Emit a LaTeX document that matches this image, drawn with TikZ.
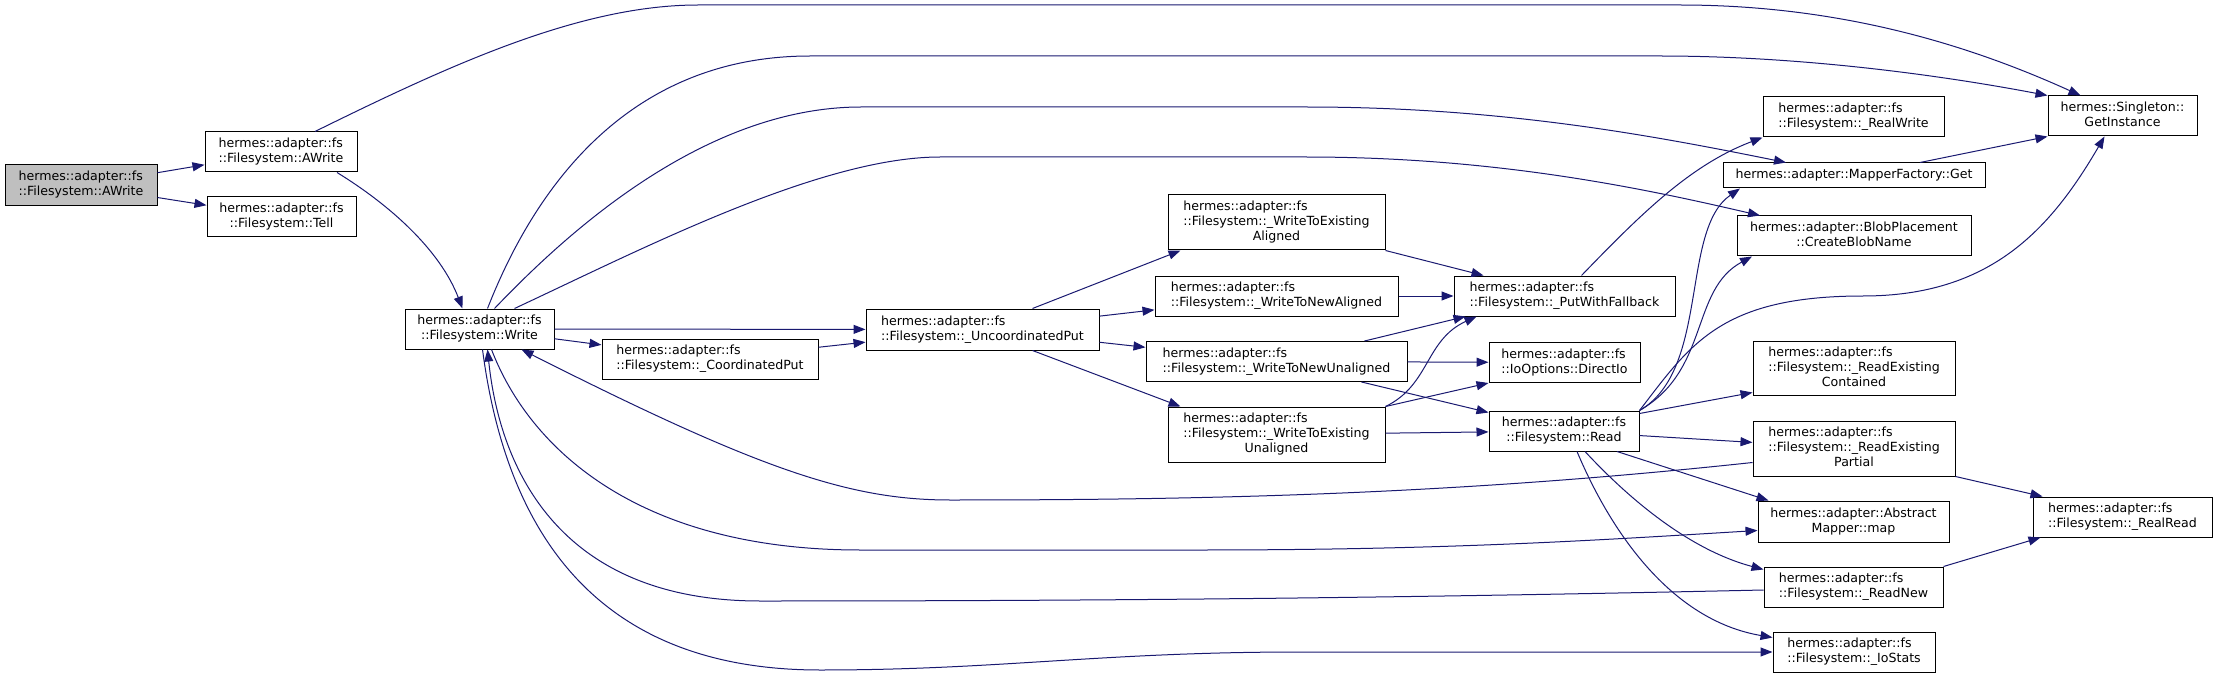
\documentclass[tikz,border=0pt]{standalone}
\usepackage{fontspec}
\setmainfont{DejaVu Sans}
\usetikzlibrary{arrows.meta}

\definecolor{edgeblue}{HTML}{191970}
\definecolor{rootgray}{HTML}{BFBFBF}

\newcommand{\twoline}[2]{\begin{tabular}{@{}l@{}}#1\\\multicolumn{1}{@{}c@{}}{#2}\end{tabular}}
\newcommand{\threeline}[3]{\begin{tabular}{@{}l@{}}#1\\#2\\\multicolumn{1}{@{}c@{}}{#3}\end{tabular}}

\begin{document}
\begin{tikzpicture}[x=1pt, y=-1pt,
  fn/.style={draw=black, line width=1pt, fill=white, inner sep=0pt, font=\fontsize{12.6}{15}\selectfont},
  edge/.style={draw=edgeblue, line width=1pt, -{Triangle[length=12pt,width=9pt]}}]

\useasboundingbox (0,0) rectangle (2217,679);

\node[fn, fill=rootgray, minimum width=152pt, minimum height=41pt] (root) at (81,185.5) {\twoline{hermes::adapter::fs}{::Filesystem::AWrite}};
\node[fn, minimum width=152pt, minimum height=40pt] (awrite) at (281,152) {\twoline{hermes::adapter::fs}{::Filesystem::AWrite}};
\node[fn, minimum width=149pt, minimum height=40pt] (tell) at (281.5,217) {\twoline{hermes::adapter::fs}{::Filesystem::Tell}};
\node[fn, minimum width=149pt, minimum height=40pt] (write) at (479.5,329) {\twoline{hermes::adapter::fs}{::Filesystem::Write}};
\node[fn, minimum width=216pt, minimum height=40pt] (coordput) at (710,359) {\twoline{hermes::adapter::fs}{::Filesystem::\_CoordinatedPut}};
\node[fn, minimum width=233pt, minimum height=41pt] (uncoordput) at (982.5,329.5) {\twoline{hermes::adapter::fs}{::Filesystem::\_UncoordinatedPut}};

\node[fn, minimum width=217pt, minimum height=55pt] (wtea) at (1276.5,222.5) {\threeline{hermes::adapter::fs}{::Filesystem::\_WriteToExisting}{Aligned}};
\node[fn, minimum width=243pt, minimum height=40pt] (wtna) at (1276.5,296) {\twoline{hermes::adapter::fs}{::Filesystem::\_WriteToNewAligned}};
\node[fn, minimum width=261pt, minimum height=40pt] (wtnu) at (1276.5,361.5) {\twoline{hermes::adapter::fs}{::Filesystem::\_WriteToNewUnaligned}};
\node[fn, minimum width=217pt, minimum height=55pt] (wteu) at (1276.5,434.5) {\threeline{hermes::adapter::fs}{::Filesystem::\_WriteToExisting}{Unaligned}};

\node[fn, minimum width=221pt, minimum height=40pt] (putfb) at (1564.5,296) {\twoline{hermes::adapter::fs}{::Filesystem::\_PutWithFallback}};
\node[fn, minimum width=151pt, minimum height=40pt] (directio) at (1564.5,362.5) {\twoline{hermes::adapter::fs}{::IoOptions::DirectIo}};
\node[fn, minimum width=150pt, minimum height=40pt] (read) at (1564,431) {\twoline{hermes::adapter::fs}{::Filesystem::Read}};

\node[fn, minimum width=181pt, minimum height=40pt] (realwrite) at (1853.5,117) {\twoline{hermes::adapter::fs}{::Filesystem::\_RealWrite}};
\node[fn, minimum width=262pt, minimum height=25pt] (mfget) at (1854,175.5) {hermes::adapter::MapperFactory::Get};
\node[fn, minimum width=234pt, minimum height=40pt] (blobname) at (1854,236) {\twoline{hermes::adapter::BlobPlacement}{::CreateBlobName}};
\node[fn, minimum width=202pt, minimum height=54pt] (rdcont) at (1854,368) {\threeline{hermes::adapter::fs}{::Filesystem::\_ReadExisting}{Contained}};
\node[fn, minimum width=202pt, minimum height=55pt] (rdpart) at (1854,448.5) {\threeline{hermes::adapter::fs}{::Filesystem::\_ReadExisting}{Partial}};
\node[fn, minimum width=191pt, minimum height=41pt] (amap) at (1853.5,521.5) {\twoline{hermes::adapter::Abstract}{Mapper::map}};
\node[fn, minimum width=179pt, minimum height=40pt] (readnew) at (1853.5,587) {\twoline{hermes::adapter::fs}{::Filesystem::\_ReadNew}};
\node[fn, minimum width=162pt, minimum height=40pt] (iostats) at (1854,652) {\twoline{hermes::adapter::fs}{::Filesystem::\_IoStats}};

\node[fn, minimum width=149pt, minimum height=40pt] (getinst) at (2122.5,116) {\twoline{hermes::Singleton::}{GetInstance}};
\node[fn, minimum width=179pt, minimum height=40pt] (realread) at (2122.5,517) {\twoline{hermes::adapter::fs}{::Filesystem::\_RealRead}};

% calls from the two AWrite
\draw[edge] (root) -- (awrite);
\draw[edge] (root) -- (tell);
\draw[edge] ([xshift=34pt]awrite.north) .. controls (450,65) and (580,5) .. (698,5) -- (1680,5) .. controls (1850,5) and (1980,50) .. ([xshift=-42pt]getinst.north);
\draw[edge] ([xshift=56pt]awrite.south) .. controls (390,205) and (440,250) .. ([xshift=-17pt]write.north);

% calls from Write
\draw[edge] ([xshift=8pt]write.north) .. controls (530,200) and (620,56) .. (810,56) -- (1660,56) .. controls (1800,56) and (1940,75) .. (getinst.north west);
\draw[edge] ([xshift=15pt]write.north) .. controls (560,240) and (700,107) .. (861,107) -- (1306,107) .. controls (1500,107) and (1650,135) .. ([xshift=-68pt]mfget.north);
\draw[edge] ([xshift=35pt]write.north) .. controls (640,250) and (820,157) .. (940,157) -- (1306,157) .. controls (1500,157) and (1650,190) .. ([xshift=-94pt]blobname.north);
\draw[edge] (write) -- (uncoordput);
\draw[edge] (write) -- (coordput);
\draw[edge] ([xshift=12pt]write.south) .. controls (530,450) and (640,550) .. (860,550) -- (1200,550) .. controls (1450,550) and (1600,540) .. ([yshift=-9pt]amap.west);
\draw[edge] ([xshift=3pt]write.south) .. controls (510,560) and (620,670) .. (820,670) .. controls (1000,670) and (1100,652) .. (1300,652) -- (iostats.west);
\draw[edge] (coordput) -- (uncoordput);

% calls from _UncoordinatedPut
\draw[edge] ([xshift=50pt]uncoordput.north) -- ([xshift=-96pt]wtea.south);
\draw[edge] (uncoordput) -- (wtna);
\draw[edge] (uncoordput) -- (wtnu);
\draw[edge] ([xshift=50pt]uncoordput.south) -- ([xshift=-96pt]wteu.north);

\draw[edge] (wtea.south east) -- ([xshift=-81pt]putfb.north);
\draw[edge] (wtna) -- (putfb);
\draw[edge] ([xshift=88pt]wtnu.north) -- ([xshift=-99pt]putfb.south);
\draw[edge] (wtnu) -- (directio);
\draw[edge] ([xshift=85pt]wtnu.south) -- ([yshift=-2pt]read.north west);
\draw[edge] (wteu.north east) .. controls (1430,385) and (1425,340) .. ([xshift=-88pt]putfb.south);
\draw[edge] (wteu.north east) -- (directio.south west);
\draw[edge] (wteu) -- (read);

\draw[edge] ([xshift=17pt]putfb.north) .. controls (1640,215) and (1690,165) .. (realwrite.south west);

% calls from Read
\draw[edge] (read.north east) .. controls (1710,370) and (1680,230) .. ([xshift=-114pt]mfget.south);
\draw[edge] (read.north east) .. controls (1710,370) and (1690,290) .. ([xshift=-102pt]blobname.south);
\draw[edge] (read.north east) .. controls (1690,345) and (1720,296) .. (1863,296) .. controls (1990,296) and (2050,230) .. ([xshift=-18pt]getinst.south);
\draw[edge] ([yshift=-3pt]read.north east) -- ([yshift=3pt]rdcont.south west);
\draw[edge] (read) -- (rdpart);
\draw[edge] ([xshift=53pt]read.south) -- ([xshift=-85pt]amap.north);
\draw[edge] ([xshift=21pt]read.south) .. controls (1630,500) and (1690,550) .. ([yshift=-3pt]readnew.north west);
\draw[edge] ([xshift=13pt]read.south) .. controls (1610,530) and (1670,620) .. ([yshift=-6pt]iostats.north west);

% back to Write and on to the right column
\draw[edge] ([yshift=-14pt]rdpart.west) .. controls (1450,495) and (1200,500) .. (950,500) .. controls (850,500) and (760,470) .. ([xshift=42pt]write.south);
\draw[edge] ([yshift=-3pt]readnew.west) .. controls (1400,598) and (1100,601) .. (760,601) .. controls (560,601) and (500,470) .. ([xshift=8pt]write.south);
\draw[edge] (rdpart.south east) -- ([xshift=-80pt]realread.north);
\draw[edge] (readnew.north east) -- ([xshift=-82pt]realread.south);
\draw[edge] ([xshift=66pt]mfget.north) -- (getinst.south west);

\end{tikzpicture}
\end{document}
